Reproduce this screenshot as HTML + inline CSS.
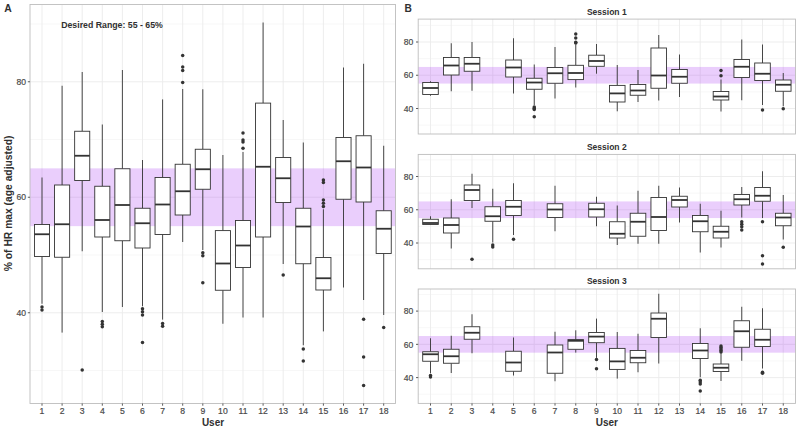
<!DOCTYPE html>
<html><head><meta charset="utf-8"><style>
html,body{margin:0;padding:0;background:#fff;}
svg{display:block;}
text{font-family:"Liberation Sans",sans-serif;}
.tk{font-size:8.6px;fill:#4A4A4A;font-weight:normal;stroke:#4A4A4A;stroke-width:0.2px;}
.bt{font-weight:bold;fill:#303030;}
</style></head><body>
<svg width="800" height="432" viewBox="0 0 800 432">
<rect width="800" height="432" fill="#fff"/>
<line x1="30.0" y1="370.5" x2="395.5" y2="370.5" stroke="#F2F2F2" stroke-width="0.6"/>
<line x1="30.0" y1="255" x2="395.5" y2="255" stroke="#F2F2F2" stroke-width="0.6"/>
<line x1="30.0" y1="139.5" x2="395.5" y2="139.5" stroke="#F2F2F2" stroke-width="0.6"/>
<line x1="30.0" y1="24" x2="395.5" y2="24" stroke="#F2F2F2" stroke-width="0.6"/>
<line x1="30.0" y1="312.75" x2="395.5" y2="312.75" stroke="#EBEBEB" stroke-width="0.9"/>
<line x1="30.0" y1="197.25" x2="395.5" y2="197.25" stroke="#EBEBEB" stroke-width="0.9"/>
<line x1="30.0" y1="81.75" x2="395.5" y2="81.75" stroke="#EBEBEB" stroke-width="0.9"/>
<line x1="42" y1="4.5" x2="42" y2="403.5" stroke="#EBEBEB" stroke-width="0.9"/>
<line x1="62.1" y1="4.5" x2="62.1" y2="403.5" stroke="#EBEBEB" stroke-width="0.9"/>
<line x1="82.2" y1="4.5" x2="82.2" y2="403.5" stroke="#EBEBEB" stroke-width="0.9"/>
<line x1="102.3" y1="4.5" x2="102.3" y2="403.5" stroke="#EBEBEB" stroke-width="0.9"/>
<line x1="122.4" y1="4.5" x2="122.4" y2="403.5" stroke="#EBEBEB" stroke-width="0.9"/>
<line x1="142.5" y1="4.5" x2="142.5" y2="403.5" stroke="#EBEBEB" stroke-width="0.9"/>
<line x1="162.6" y1="4.5" x2="162.6" y2="403.5" stroke="#EBEBEB" stroke-width="0.9"/>
<line x1="182.7" y1="4.5" x2="182.7" y2="403.5" stroke="#EBEBEB" stroke-width="0.9"/>
<line x1="202.8" y1="4.5" x2="202.8" y2="403.5" stroke="#EBEBEB" stroke-width="0.9"/>
<line x1="222.9" y1="4.5" x2="222.9" y2="403.5" stroke="#EBEBEB" stroke-width="0.9"/>
<line x1="243" y1="4.5" x2="243" y2="403.5" stroke="#EBEBEB" stroke-width="0.9"/>
<line x1="263.1" y1="4.5" x2="263.1" y2="403.5" stroke="#EBEBEB" stroke-width="0.9"/>
<line x1="283.2" y1="4.5" x2="283.2" y2="403.5" stroke="#EBEBEB" stroke-width="0.9"/>
<line x1="303.3" y1="4.5" x2="303.3" y2="403.5" stroke="#EBEBEB" stroke-width="0.9"/>
<line x1="323.4" y1="4.5" x2="323.4" y2="403.5" stroke="#EBEBEB" stroke-width="0.9"/>
<line x1="343.5" y1="4.5" x2="343.5" y2="403.5" stroke="#EBEBEB" stroke-width="0.9"/>
<line x1="363.6" y1="4.5" x2="363.6" y2="403.5" stroke="#EBEBEB" stroke-width="0.9"/>
<line x1="383.7" y1="4.5" x2="383.7" y2="403.5" stroke="#EBEBEB" stroke-width="0.9"/>
<rect x="30.0" y="168.38" width="365.5" height="57.75" fill="#A020F0" opacity="0.22"/>
<line x1="42" y1="177.5" x2="42" y2="224.5" stroke="#333333" stroke-width="0.9"/>
<line x1="42" y1="256.5" x2="42" y2="303.75" stroke="#333333" stroke-width="0.9"/>
<rect x="34.45" y="224.5" width="15.1" height="32" fill="#fff" stroke="#333333" stroke-width="0.9"/>
<line x1="34.45" y1="234.25" x2="49.55" y2="234.25" stroke="#333333" stroke-width="1.8"/>
<circle cx="42" cy="307" r="1.75" fill="#333333"/>
<circle cx="42" cy="310" r="1.75" fill="#333333"/>
<line x1="62.1" y1="85.75" x2="62.1" y2="185" stroke="#333333" stroke-width="0.9"/>
<line x1="62.1" y1="257.25" x2="62.1" y2="332.6" stroke="#333333" stroke-width="0.9"/>
<rect x="54.55" y="185" width="15.1" height="72.25" fill="#fff" stroke="#333333" stroke-width="0.9"/>
<line x1="54.55" y1="224.25" x2="69.65" y2="224.25" stroke="#333333" stroke-width="1.8"/>
<line x1="82.2" y1="72" x2="82.2" y2="131.25" stroke="#333333" stroke-width="0.9"/>
<line x1="82.2" y1="180.5" x2="82.2" y2="251.25" stroke="#333333" stroke-width="0.9"/>
<rect x="74.65" y="131.25" width="15.1" height="49.25" fill="#fff" stroke="#333333" stroke-width="0.9"/>
<line x1="74.65" y1="155.75" x2="89.75" y2="155.75" stroke="#333333" stroke-width="1.8"/>
<circle cx="82.2" cy="369.9" r="1.75" fill="#333333"/>
<line x1="102.3" y1="124.5" x2="102.3" y2="186.25" stroke="#333333" stroke-width="0.9"/>
<line x1="102.3" y1="237" x2="102.3" y2="312" stroke="#333333" stroke-width="0.9"/>
<rect x="94.75" y="186.25" width="15.1" height="50.75" fill="#fff" stroke="#333333" stroke-width="0.9"/>
<line x1="94.75" y1="220" x2="109.85" y2="220" stroke="#333333" stroke-width="1.8"/>
<circle cx="102.3" cy="321.5" r="1.75" fill="#333333"/>
<circle cx="102.3" cy="324.3" r="1.75" fill="#333333"/>
<circle cx="102.3" cy="326.8" r="1.75" fill="#333333"/>
<line x1="122.4" y1="70" x2="122.4" y2="168.75" stroke="#333333" stroke-width="0.9"/>
<line x1="122.4" y1="240.75" x2="122.4" y2="307" stroke="#333333" stroke-width="0.9"/>
<rect x="114.85" y="168.75" width="15.1" height="72" fill="#fff" stroke="#333333" stroke-width="0.9"/>
<line x1="114.85" y1="205" x2="129.95" y2="205" stroke="#333333" stroke-width="1.8"/>
<line x1="142.5" y1="160" x2="142.5" y2="208.25" stroke="#333333" stroke-width="0.9"/>
<line x1="142.5" y1="248" x2="142.5" y2="306.25" stroke="#333333" stroke-width="0.9"/>
<rect x="134.95" y="208.25" width="15.1" height="39.75" fill="#fff" stroke="#333333" stroke-width="0.9"/>
<line x1="134.95" y1="223.25" x2="150.05" y2="223.25" stroke="#333333" stroke-width="1.8"/>
<circle cx="142.5" cy="308.75" r="1.75" fill="#333333"/>
<circle cx="142.5" cy="311.75" r="1.75" fill="#333333"/>
<circle cx="142.5" cy="315" r="1.75" fill="#333333"/>
<circle cx="142.5" cy="342.4" r="1.75" fill="#333333"/>
<line x1="162.6" y1="99.4" x2="162.6" y2="177.5" stroke="#333333" stroke-width="0.9"/>
<line x1="162.6" y1="234.5" x2="162.6" y2="319.6" stroke="#333333" stroke-width="0.9"/>
<rect x="155.05" y="177.5" width="15.1" height="57" fill="#fff" stroke="#333333" stroke-width="0.9"/>
<line x1="155.05" y1="204.5" x2="170.15" y2="204.5" stroke="#333333" stroke-width="1.8"/>
<circle cx="162.6" cy="323.5" r="1.75" fill="#333333"/>
<circle cx="162.6" cy="326.3" r="1.75" fill="#333333"/>
<line x1="182.7" y1="89" x2="182.7" y2="164.25" stroke="#333333" stroke-width="0.9"/>
<line x1="182.7" y1="215" x2="182.7" y2="242" stroke="#333333" stroke-width="0.9"/>
<rect x="175.15" y="164.25" width="15.1" height="50.75" fill="#fff" stroke="#333333" stroke-width="0.9"/>
<line x1="175.15" y1="191.25" x2="190.25" y2="191.25" stroke="#333333" stroke-width="1.8"/>
<circle cx="182.7" cy="55.5" r="1.75" fill="#333333"/>
<circle cx="182.7" cy="67" r="1.75" fill="#333333"/>
<circle cx="182.7" cy="70.5" r="1.75" fill="#333333"/>
<circle cx="182.7" cy="82.5" r="1.75" fill="#333333"/>
<line x1="202.8" y1="89.25" x2="202.8" y2="149.25" stroke="#333333" stroke-width="0.9"/>
<line x1="202.8" y1="189.25" x2="202.8" y2="250" stroke="#333333" stroke-width="0.9"/>
<rect x="195.25" y="149.25" width="15.1" height="40" fill="#fff" stroke="#333333" stroke-width="0.9"/>
<line x1="195.25" y1="169.25" x2="210.35" y2="169.25" stroke="#333333" stroke-width="1.8"/>
<circle cx="202.8" cy="252.75" r="1.75" fill="#333333"/>
<circle cx="202.8" cy="255.75" r="1.75" fill="#333333"/>
<circle cx="202.8" cy="282.75" r="1.75" fill="#333333"/>
<line x1="222.9" y1="155" x2="222.9" y2="230.6" stroke="#333333" stroke-width="0.9"/>
<line x1="222.9" y1="290.25" x2="222.9" y2="323.75" stroke="#333333" stroke-width="0.9"/>
<rect x="215.35" y="230.6" width="15.1" height="59.65" fill="#fff" stroke="#333333" stroke-width="0.9"/>
<line x1="215.35" y1="263.5" x2="230.45" y2="263.5" stroke="#333333" stroke-width="1.8"/>
<line x1="243" y1="152" x2="243" y2="220.5" stroke="#333333" stroke-width="0.9"/>
<line x1="243" y1="267.5" x2="243" y2="317.5" stroke="#333333" stroke-width="0.9"/>
<rect x="235.45" y="220.5" width="15.1" height="47" fill="#fff" stroke="#333333" stroke-width="0.9"/>
<line x1="235.45" y1="245.5" x2="250.55" y2="245.5" stroke="#333333" stroke-width="1.8"/>
<circle cx="243" cy="133" r="1.75" fill="#333333"/>
<circle cx="243" cy="140" r="1.75" fill="#333333"/>
<circle cx="243" cy="142" r="1.75" fill="#333333"/>
<circle cx="243" cy="148.25" r="1.75" fill="#333333"/>
<line x1="263.1" y1="22.5" x2="263.1" y2="103.1" stroke="#333333" stroke-width="0.9"/>
<line x1="263.1" y1="237" x2="263.1" y2="317.5" stroke="#333333" stroke-width="0.9"/>
<rect x="255.55" y="103.1" width="15.1" height="133.9" fill="#fff" stroke="#333333" stroke-width="0.9"/>
<line x1="255.55" y1="166.75" x2="270.65" y2="166.75" stroke="#333333" stroke-width="1.8"/>
<line x1="283.2" y1="120" x2="283.2" y2="157.5" stroke="#333333" stroke-width="0.9"/>
<line x1="283.2" y1="202.5" x2="283.2" y2="264" stroke="#333333" stroke-width="0.9"/>
<rect x="275.65" y="157.5" width="15.1" height="45" fill="#fff" stroke="#333333" stroke-width="0.9"/>
<line x1="275.65" y1="178.25" x2="290.75" y2="178.25" stroke="#333333" stroke-width="1.8"/>
<circle cx="283.2" cy="275" r="1.75" fill="#333333"/>
<line x1="303.3" y1="142.5" x2="303.3" y2="208.25" stroke="#333333" stroke-width="0.9"/>
<line x1="303.3" y1="263.75" x2="303.3" y2="345.25" stroke="#333333" stroke-width="0.9"/>
<rect x="295.75" y="208.25" width="15.1" height="55.5" fill="#fff" stroke="#333333" stroke-width="0.9"/>
<line x1="295.75" y1="226.5" x2="310.85" y2="226.5" stroke="#333333" stroke-width="1.8"/>
<circle cx="303.3" cy="349" r="1.75" fill="#333333"/>
<circle cx="303.3" cy="361" r="1.75" fill="#333333"/>
<line x1="323.4" y1="209.3" x2="323.4" y2="257.5" stroke="#333333" stroke-width="0.9"/>
<line x1="323.4" y1="290" x2="323.4" y2="331.4" stroke="#333333" stroke-width="0.9"/>
<rect x="315.85" y="257.5" width="15.1" height="32.5" fill="#fff" stroke="#333333" stroke-width="0.9"/>
<line x1="315.85" y1="278.25" x2="330.95" y2="278.25" stroke="#333333" stroke-width="1.8"/>
<circle cx="323.4" cy="180" r="1.75" fill="#333333"/>
<circle cx="323.4" cy="182.5" r="1.75" fill="#333333"/>
<circle cx="323.4" cy="199.9" r="1.75" fill="#333333"/>
<circle cx="323.4" cy="203.3" r="1.75" fill="#333333"/>
<circle cx="323.4" cy="206.5" r="1.75" fill="#333333"/>
<line x1="343.5" y1="67.5" x2="343.5" y2="137.5" stroke="#333333" stroke-width="0.9"/>
<line x1="343.5" y1="199.25" x2="343.5" y2="287.5" stroke="#333333" stroke-width="0.9"/>
<rect x="335.95" y="137.5" width="15.1" height="61.75" fill="#fff" stroke="#333333" stroke-width="0.9"/>
<line x1="335.95" y1="161.25" x2="351.05" y2="161.25" stroke="#333333" stroke-width="1.8"/>
<line x1="363.6" y1="63.75" x2="363.6" y2="135.75" stroke="#333333" stroke-width="0.9"/>
<line x1="363.6" y1="202" x2="363.6" y2="300" stroke="#333333" stroke-width="0.9"/>
<rect x="356.05" y="135.75" width="15.1" height="66.25" fill="#fff" stroke="#333333" stroke-width="0.9"/>
<line x1="356.05" y1="167.5" x2="371.15" y2="167.5" stroke="#333333" stroke-width="1.8"/>
<circle cx="363.6" cy="319.25" r="1.75" fill="#333333"/>
<circle cx="363.6" cy="357" r="1.75" fill="#333333"/>
<circle cx="363.6" cy="385.5" r="1.75" fill="#333333"/>
<line x1="383.7" y1="145.75" x2="383.7" y2="210.75" stroke="#333333" stroke-width="0.9"/>
<line x1="383.7" y1="253.5" x2="383.7" y2="315" stroke="#333333" stroke-width="0.9"/>
<rect x="376.15" y="210.75" width="15.1" height="42.75" fill="#fff" stroke="#333333" stroke-width="0.9"/>
<line x1="376.15" y1="228.75" x2="391.25" y2="228.75" stroke="#333333" stroke-width="1.8"/>
<circle cx="383.7" cy="327.6" r="1.75" fill="#333333"/>
<rect x="30.0" y="4.5" width="365.5" height="399" fill="none" stroke="#BDBDBD" stroke-width="0.9"/>
<line x1="27.8" y1="312.75" x2="30.0" y2="312.75" stroke="#4A4A4A" stroke-width="0.9"/>
<text x="26" y="315.95" text-anchor="end" class="tk">40</text>
<line x1="27.8" y1="197.25" x2="30.0" y2="197.25" stroke="#4A4A4A" stroke-width="0.9"/>
<text x="26" y="200.45" text-anchor="end" class="tk">60</text>
<line x1="27.8" y1="81.75" x2="30.0" y2="81.75" stroke="#4A4A4A" stroke-width="0.9"/>
<text x="26" y="84.95" text-anchor="end" class="tk">80</text>
<line x1="42" y1="403.5" x2="42" y2="405.7" stroke="#4A4A4A" stroke-width="0.9"/>
<text x="42" y="414" text-anchor="middle" class="tk">1</text>
<line x1="62.1" y1="403.5" x2="62.1" y2="405.7" stroke="#4A4A4A" stroke-width="0.9"/>
<text x="62.1" y="414" text-anchor="middle" class="tk">2</text>
<line x1="82.2" y1="403.5" x2="82.2" y2="405.7" stroke="#4A4A4A" stroke-width="0.9"/>
<text x="82.2" y="414" text-anchor="middle" class="tk">3</text>
<line x1="102.3" y1="403.5" x2="102.3" y2="405.7" stroke="#4A4A4A" stroke-width="0.9"/>
<text x="102.3" y="414" text-anchor="middle" class="tk">4</text>
<line x1="122.4" y1="403.5" x2="122.4" y2="405.7" stroke="#4A4A4A" stroke-width="0.9"/>
<text x="122.4" y="414" text-anchor="middle" class="tk">5</text>
<line x1="142.5" y1="403.5" x2="142.5" y2="405.7" stroke="#4A4A4A" stroke-width="0.9"/>
<text x="142.5" y="414" text-anchor="middle" class="tk">6</text>
<line x1="162.6" y1="403.5" x2="162.6" y2="405.7" stroke="#4A4A4A" stroke-width="0.9"/>
<text x="162.6" y="414" text-anchor="middle" class="tk">7</text>
<line x1="182.7" y1="403.5" x2="182.7" y2="405.7" stroke="#4A4A4A" stroke-width="0.9"/>
<text x="182.7" y="414" text-anchor="middle" class="tk">8</text>
<line x1="202.8" y1="403.5" x2="202.8" y2="405.7" stroke="#4A4A4A" stroke-width="0.9"/>
<text x="202.8" y="414" text-anchor="middle" class="tk">9</text>
<line x1="222.9" y1="403.5" x2="222.9" y2="405.7" stroke="#4A4A4A" stroke-width="0.9"/>
<text x="222.9" y="414" text-anchor="middle" class="tk">10</text>
<line x1="243" y1="403.5" x2="243" y2="405.7" stroke="#4A4A4A" stroke-width="0.9"/>
<text x="243" y="414" text-anchor="middle" class="tk">11</text>
<line x1="263.1" y1="403.5" x2="263.1" y2="405.7" stroke="#4A4A4A" stroke-width="0.9"/>
<text x="263.1" y="414" text-anchor="middle" class="tk">12</text>
<line x1="283.2" y1="403.5" x2="283.2" y2="405.7" stroke="#4A4A4A" stroke-width="0.9"/>
<text x="283.2" y="414" text-anchor="middle" class="tk">13</text>
<line x1="303.3" y1="403.5" x2="303.3" y2="405.7" stroke="#4A4A4A" stroke-width="0.9"/>
<text x="303.3" y="414" text-anchor="middle" class="tk">14</text>
<line x1="323.4" y1="403.5" x2="323.4" y2="405.7" stroke="#4A4A4A" stroke-width="0.9"/>
<text x="323.4" y="414" text-anchor="middle" class="tk">15</text>
<line x1="343.5" y1="403.5" x2="343.5" y2="405.7" stroke="#4A4A4A" stroke-width="0.9"/>
<text x="343.5" y="414" text-anchor="middle" class="tk">16</text>
<line x1="363.6" y1="403.5" x2="363.6" y2="405.7" stroke="#4A4A4A" stroke-width="0.9"/>
<text x="363.6" y="414" text-anchor="middle" class="tk">17</text>
<line x1="383.7" y1="403.5" x2="383.7" y2="405.7" stroke="#4A4A4A" stroke-width="0.9"/>
<text x="383.7" y="414" text-anchor="middle" class="tk">18</text>
<line x1="418.2" y1="125.12" x2="795.5" y2="125.12" stroke="#F2F2F2" stroke-width="0.6"/>
<line x1="418.2" y1="91.88" x2="795.5" y2="91.88" stroke="#F2F2F2" stroke-width="0.6"/>
<line x1="418.2" y1="58.62" x2="795.5" y2="58.62" stroke="#F2F2F2" stroke-width="0.6"/>
<line x1="418.2" y1="25.38" x2="795.5" y2="25.38" stroke="#F2F2F2" stroke-width="0.6"/>
<line x1="418.2" y1="108.5" x2="795.5" y2="108.5" stroke="#EBEBEB" stroke-width="0.9"/>
<line x1="418.2" y1="75.25" x2="795.5" y2="75.25" stroke="#EBEBEB" stroke-width="0.9"/>
<line x1="418.2" y1="42" x2="795.5" y2="42" stroke="#EBEBEB" stroke-width="0.9"/>
<line x1="430.5" y1="19.1" x2="430.5" y2="134.0" stroke="#EBEBEB" stroke-width="0.9"/>
<line x1="451.25" y1="19.1" x2="451.25" y2="134.0" stroke="#EBEBEB" stroke-width="0.9"/>
<line x1="472" y1="19.1" x2="472" y2="134.0" stroke="#EBEBEB" stroke-width="0.9"/>
<line x1="492.75" y1="19.1" x2="492.75" y2="134.0" stroke="#EBEBEB" stroke-width="0.9"/>
<line x1="513.5" y1="19.1" x2="513.5" y2="134.0" stroke="#EBEBEB" stroke-width="0.9"/>
<line x1="534.25" y1="19.1" x2="534.25" y2="134.0" stroke="#EBEBEB" stroke-width="0.9"/>
<line x1="555" y1="19.1" x2="555" y2="134.0" stroke="#EBEBEB" stroke-width="0.9"/>
<line x1="575.75" y1="19.1" x2="575.75" y2="134.0" stroke="#EBEBEB" stroke-width="0.9"/>
<line x1="596.5" y1="19.1" x2="596.5" y2="134.0" stroke="#EBEBEB" stroke-width="0.9"/>
<line x1="617.25" y1="19.1" x2="617.25" y2="134.0" stroke="#EBEBEB" stroke-width="0.9"/>
<line x1="638" y1="19.1" x2="638" y2="134.0" stroke="#EBEBEB" stroke-width="0.9"/>
<line x1="658.75" y1="19.1" x2="658.75" y2="134.0" stroke="#EBEBEB" stroke-width="0.9"/>
<line x1="679.5" y1="19.1" x2="679.5" y2="134.0" stroke="#EBEBEB" stroke-width="0.9"/>
<line x1="700.25" y1="19.1" x2="700.25" y2="134.0" stroke="#EBEBEB" stroke-width="0.9"/>
<line x1="721" y1="19.1" x2="721" y2="134.0" stroke="#EBEBEB" stroke-width="0.9"/>
<line x1="741.75" y1="19.1" x2="741.75" y2="134.0" stroke="#EBEBEB" stroke-width="0.9"/>
<line x1="762.5" y1="19.1" x2="762.5" y2="134.0" stroke="#EBEBEB" stroke-width="0.9"/>
<line x1="783.25" y1="19.1" x2="783.25" y2="134.0" stroke="#EBEBEB" stroke-width="0.9"/>
<rect x="418.2" y="66.94" width="377.3" height="16.62" fill="#A020F0" opacity="0.22"/>
<line x1="430.5" y1="81.25" x2="430.5" y2="82.5" stroke="#333333" stroke-width="0.9"/>
<line x1="430.5" y1="94.5" x2="430.5" y2="95.75" stroke="#333333" stroke-width="0.9"/>
<rect x="422.7" y="82.5" width="15.6" height="12" fill="#fff" stroke="#333333" stroke-width="0.9"/>
<line x1="422.7" y1="88" x2="438.3" y2="88" stroke="#333333" stroke-width="1.8"/>
<line x1="451.25" y1="43.25" x2="451.25" y2="57.5" stroke="#333333" stroke-width="0.9"/>
<line x1="451.25" y1="75" x2="451.25" y2="91.25" stroke="#333333" stroke-width="0.9"/>
<rect x="443.45" y="57.5" width="15.6" height="17.5" fill="#fff" stroke="#333333" stroke-width="0.9"/>
<line x1="443.45" y1="65.5" x2="459.05" y2="65.5" stroke="#333333" stroke-width="1.8"/>
<line x1="472" y1="42" x2="472" y2="57.5" stroke="#333333" stroke-width="0.9"/>
<line x1="472" y1="71.25" x2="472" y2="90.75" stroke="#333333" stroke-width="0.9"/>
<rect x="464.2" y="57.5" width="15.6" height="13.75" fill="#fff" stroke="#333333" stroke-width="0.9"/>
<line x1="464.2" y1="63.75" x2="479.8" y2="63.75" stroke="#333333" stroke-width="1.8"/>
<line x1="513.5" y1="38.25" x2="513.5" y2="60" stroke="#333333" stroke-width="0.9"/>
<line x1="513.5" y1="77" x2="513.5" y2="93.5" stroke="#333333" stroke-width="0.9"/>
<rect x="505.7" y="60" width="15.6" height="17" fill="#fff" stroke="#333333" stroke-width="0.9"/>
<line x1="505.7" y1="67.5" x2="521.3" y2="67.5" stroke="#333333" stroke-width="1.8"/>
<line x1="534.25" y1="64.5" x2="534.25" y2="78.25" stroke="#333333" stroke-width="0.9"/>
<line x1="534.25" y1="89.25" x2="534.25" y2="105" stroke="#333333" stroke-width="0.9"/>
<rect x="526.45" y="78.25" width="15.6" height="11" fill="#fff" stroke="#333333" stroke-width="0.9"/>
<line x1="526.45" y1="82.5" x2="542.05" y2="82.5" stroke="#333333" stroke-width="1.8"/>
<circle cx="534.25" cy="107" r="1.75" fill="#333333"/>
<circle cx="534.25" cy="108.25" r="1.75" fill="#333333"/>
<circle cx="534.25" cy="109.5" r="1.75" fill="#333333"/>
<circle cx="534.25" cy="116.75" r="1.75" fill="#333333"/>
<line x1="555" y1="47" x2="555" y2="67.5" stroke="#333333" stroke-width="0.9"/>
<line x1="555" y1="83.25" x2="555" y2="98.5" stroke="#333333" stroke-width="0.9"/>
<rect x="547.2" y="67.5" width="15.6" height="15.75" fill="#fff" stroke="#333333" stroke-width="0.9"/>
<line x1="547.2" y1="73.25" x2="562.8" y2="73.25" stroke="#333333" stroke-width="1.8"/>
<line x1="575.75" y1="44.5" x2="575.75" y2="65.3" stroke="#333333" stroke-width="0.9"/>
<line x1="575.75" y1="79.6" x2="575.75" y2="87.5" stroke="#333333" stroke-width="0.9"/>
<rect x="567.95" y="65.3" width="15.6" height="14.3" fill="#fff" stroke="#333333" stroke-width="0.9"/>
<line x1="567.95" y1="73" x2="583.55" y2="73" stroke="#333333" stroke-width="1.8"/>
<circle cx="575.75" cy="33.9" r="1.75" fill="#333333"/>
<circle cx="575.75" cy="38" r="1.75" fill="#333333"/>
<circle cx="575.75" cy="42.2" r="1.75" fill="#333333"/>
<circle cx="575.75" cy="43" r="1.75" fill="#333333"/>
<line x1="596.5" y1="44" x2="596.5" y2="55.2" stroke="#333333" stroke-width="0.9"/>
<line x1="596.5" y1="66.3" x2="596.5" y2="73.7" stroke="#333333" stroke-width="0.9"/>
<rect x="588.7" y="55.2" width="15.6" height="11.1" fill="#fff" stroke="#333333" stroke-width="0.9"/>
<line x1="588.7" y1="61" x2="604.3" y2="61" stroke="#333333" stroke-width="1.8"/>
<line x1="617.25" y1="65" x2="617.25" y2="85.4" stroke="#333333" stroke-width="0.9"/>
<line x1="617.25" y1="102" x2="617.25" y2="111.3" stroke="#333333" stroke-width="0.9"/>
<rect x="609.45" y="85.4" width="15.6" height="16.6" fill="#fff" stroke="#333333" stroke-width="0.9"/>
<line x1="609.45" y1="93.4" x2="625.05" y2="93.4" stroke="#333333" stroke-width="1.8"/>
<line x1="638" y1="70" x2="638" y2="84.5" stroke="#333333" stroke-width="0.9"/>
<line x1="638" y1="95.25" x2="638" y2="102" stroke="#333333" stroke-width="0.9"/>
<rect x="630.2" y="84.5" width="15.6" height="10.75" fill="#fff" stroke="#333333" stroke-width="0.9"/>
<line x1="630.2" y1="90.5" x2="645.8" y2="90.5" stroke="#333333" stroke-width="1.8"/>
<line x1="658.75" y1="35" x2="658.75" y2="48" stroke="#333333" stroke-width="0.9"/>
<line x1="658.75" y1="88.25" x2="658.75" y2="100.5" stroke="#333333" stroke-width="0.9"/>
<rect x="650.95" y="48" width="15.6" height="40.25" fill="#fff" stroke="#333333" stroke-width="0.9"/>
<line x1="650.95" y1="75.5" x2="666.55" y2="75.5" stroke="#333333" stroke-width="1.8"/>
<line x1="679.5" y1="54.5" x2="679.5" y2="69.5" stroke="#333333" stroke-width="0.9"/>
<line x1="679.5" y1="83.25" x2="679.5" y2="97" stroke="#333333" stroke-width="0.9"/>
<rect x="671.7" y="69.5" width="15.6" height="13.75" fill="#fff" stroke="#333333" stroke-width="0.9"/>
<line x1="671.7" y1="76.75" x2="687.3" y2="76.75" stroke="#333333" stroke-width="1.8"/>
<line x1="721" y1="79.5" x2="721" y2="91.5" stroke="#333333" stroke-width="0.9"/>
<line x1="721" y1="100" x2="721" y2="111.5" stroke="#333333" stroke-width="0.9"/>
<rect x="713.2" y="91.5" width="15.6" height="8.5" fill="#fff" stroke="#333333" stroke-width="0.9"/>
<line x1="713.2" y1="96.5" x2="728.8" y2="96.5" stroke="#333333" stroke-width="1.8"/>
<circle cx="721" cy="70.5" r="1.75" fill="#333333"/>
<circle cx="721" cy="75.75" r="1.75" fill="#333333"/>
<line x1="741.75" y1="39.5" x2="741.75" y2="59.5" stroke="#333333" stroke-width="0.9"/>
<line x1="741.75" y1="77.5" x2="741.75" y2="100.25" stroke="#333333" stroke-width="0.9"/>
<rect x="733.95" y="59.5" width="15.6" height="18" fill="#fff" stroke="#333333" stroke-width="0.9"/>
<line x1="733.95" y1="66.75" x2="749.55" y2="66.75" stroke="#333333" stroke-width="1.8"/>
<line x1="762.5" y1="44.5" x2="762.5" y2="63" stroke="#333333" stroke-width="0.9"/>
<line x1="762.5" y1="80.5" x2="762.5" y2="105" stroke="#333333" stroke-width="0.9"/>
<rect x="754.7" y="63" width="15.6" height="17.5" fill="#fff" stroke="#333333" stroke-width="0.9"/>
<line x1="754.7" y1="73.75" x2="770.3" y2="73.75" stroke="#333333" stroke-width="1.8"/>
<circle cx="762.5" cy="110" r="1.75" fill="#333333"/>
<line x1="783.25" y1="73" x2="783.25" y2="80" stroke="#333333" stroke-width="0.9"/>
<line x1="783.25" y1="91.25" x2="783.25" y2="106.25" stroke="#333333" stroke-width="0.9"/>
<rect x="775.45" y="80" width="15.6" height="11.25" fill="#fff" stroke="#333333" stroke-width="0.9"/>
<line x1="775.45" y1="84.75" x2="791.05" y2="84.75" stroke="#333333" stroke-width="1.8"/>
<circle cx="783.25" cy="108.75" r="1.75" fill="#333333"/>
<rect x="418.2" y="19.1" width="377.3" height="114.9" fill="none" stroke="#BDBDBD" stroke-width="0.9"/>
<line x1="416" y1="108.5" x2="418.2" y2="108.5" stroke="#4A4A4A" stroke-width="0.9"/>
<text x="413.4" y="111.7" text-anchor="end" class="tk">40</text>
<line x1="416" y1="75.25" x2="418.2" y2="75.25" stroke="#4A4A4A" stroke-width="0.9"/>
<text x="413.4" y="78.45" text-anchor="end" class="tk">60</text>
<line x1="416" y1="42" x2="418.2" y2="42" stroke="#4A4A4A" stroke-width="0.9"/>
<text x="413.4" y="45.2" text-anchor="end" class="tk">80</text>
<line x1="418.2" y1="259.62" x2="795.5" y2="259.62" stroke="#F2F2F2" stroke-width="0.6"/>
<line x1="418.2" y1="226.38" x2="795.5" y2="226.38" stroke="#F2F2F2" stroke-width="0.6"/>
<line x1="418.2" y1="193.12" x2="795.5" y2="193.12" stroke="#F2F2F2" stroke-width="0.6"/>
<line x1="418.2" y1="159.88" x2="795.5" y2="159.88" stroke="#F2F2F2" stroke-width="0.6"/>
<line x1="418.2" y1="243" x2="795.5" y2="243" stroke="#EBEBEB" stroke-width="0.9"/>
<line x1="418.2" y1="209.75" x2="795.5" y2="209.75" stroke="#EBEBEB" stroke-width="0.9"/>
<line x1="418.2" y1="176.5" x2="795.5" y2="176.5" stroke="#EBEBEB" stroke-width="0.9"/>
<line x1="430.5" y1="154.4" x2="430.5" y2="268.8" stroke="#EBEBEB" stroke-width="0.9"/>
<line x1="451.25" y1="154.4" x2="451.25" y2="268.8" stroke="#EBEBEB" stroke-width="0.9"/>
<line x1="472" y1="154.4" x2="472" y2="268.8" stroke="#EBEBEB" stroke-width="0.9"/>
<line x1="492.75" y1="154.4" x2="492.75" y2="268.8" stroke="#EBEBEB" stroke-width="0.9"/>
<line x1="513.5" y1="154.4" x2="513.5" y2="268.8" stroke="#EBEBEB" stroke-width="0.9"/>
<line x1="534.25" y1="154.4" x2="534.25" y2="268.8" stroke="#EBEBEB" stroke-width="0.9"/>
<line x1="555" y1="154.4" x2="555" y2="268.8" stroke="#EBEBEB" stroke-width="0.9"/>
<line x1="575.75" y1="154.4" x2="575.75" y2="268.8" stroke="#EBEBEB" stroke-width="0.9"/>
<line x1="596.5" y1="154.4" x2="596.5" y2="268.8" stroke="#EBEBEB" stroke-width="0.9"/>
<line x1="617.25" y1="154.4" x2="617.25" y2="268.8" stroke="#EBEBEB" stroke-width="0.9"/>
<line x1="638" y1="154.4" x2="638" y2="268.8" stroke="#EBEBEB" stroke-width="0.9"/>
<line x1="658.75" y1="154.4" x2="658.75" y2="268.8" stroke="#EBEBEB" stroke-width="0.9"/>
<line x1="679.5" y1="154.4" x2="679.5" y2="268.8" stroke="#EBEBEB" stroke-width="0.9"/>
<line x1="700.25" y1="154.4" x2="700.25" y2="268.8" stroke="#EBEBEB" stroke-width="0.9"/>
<line x1="721" y1="154.4" x2="721" y2="268.8" stroke="#EBEBEB" stroke-width="0.9"/>
<line x1="741.75" y1="154.4" x2="741.75" y2="268.8" stroke="#EBEBEB" stroke-width="0.9"/>
<line x1="762.5" y1="154.4" x2="762.5" y2="268.8" stroke="#EBEBEB" stroke-width="0.9"/>
<line x1="783.25" y1="154.4" x2="783.25" y2="268.8" stroke="#EBEBEB" stroke-width="0.9"/>
<rect x="418.2" y="201.44" width="377.3" height="16.62" fill="#A020F0" opacity="0.22"/>
<line x1="430.5" y1="216.25" x2="430.5" y2="219.25" stroke="#333333" stroke-width="0.9"/>
<line x1="430.5" y1="224.5" x2="430.5" y2="225" stroke="#333333" stroke-width="0.9"/>
<rect x="422.7" y="219.25" width="15.6" height="5.25" fill="#fff" stroke="#333333" stroke-width="0.9"/>
<line x1="422.7" y1="223" x2="438.3" y2="223" stroke="#333333" stroke-width="1.8"/>
<line x1="451.25" y1="199.25" x2="451.25" y2="218" stroke="#333333" stroke-width="0.9"/>
<line x1="451.25" y1="233" x2="451.25" y2="248.5" stroke="#333333" stroke-width="0.9"/>
<rect x="443.45" y="218" width="15.6" height="15" fill="#fff" stroke="#333333" stroke-width="0.9"/>
<line x1="443.45" y1="225" x2="459.05" y2="225" stroke="#333333" stroke-width="1.8"/>
<line x1="472" y1="173.75" x2="472" y2="185" stroke="#333333" stroke-width="0.9"/>
<line x1="472" y1="200.5" x2="472" y2="208" stroke="#333333" stroke-width="0.9"/>
<rect x="464.2" y="185" width="15.6" height="15.5" fill="#fff" stroke="#333333" stroke-width="0.9"/>
<line x1="464.2" y1="190" x2="479.8" y2="190" stroke="#333333" stroke-width="1.8"/>
<circle cx="472" cy="259.25" r="1.75" fill="#333333"/>
<line x1="492.75" y1="188.75" x2="492.75" y2="206.75" stroke="#333333" stroke-width="0.9"/>
<line x1="492.75" y1="221.25" x2="492.75" y2="242.5" stroke="#333333" stroke-width="0.9"/>
<rect x="484.95" y="206.75" width="15.6" height="14.5" fill="#fff" stroke="#333333" stroke-width="0.9"/>
<line x1="484.95" y1="216.25" x2="500.55" y2="216.25" stroke="#333333" stroke-width="1.8"/>
<circle cx="492.75" cy="245" r="1.75" fill="#333333"/>
<circle cx="492.75" cy="247" r="1.75" fill="#333333"/>
<line x1="513.5" y1="183.25" x2="513.5" y2="200.5" stroke="#333333" stroke-width="0.9"/>
<line x1="513.5" y1="215.5" x2="513.5" y2="235" stroke="#333333" stroke-width="0.9"/>
<rect x="505.7" y="200.5" width="15.6" height="15" fill="#fff" stroke="#333333" stroke-width="0.9"/>
<line x1="505.7" y1="206.75" x2="521.3" y2="206.75" stroke="#333333" stroke-width="1.8"/>
<circle cx="513.5" cy="239.25" r="1.75" fill="#333333"/>
<line x1="555" y1="185.75" x2="555" y2="203.75" stroke="#333333" stroke-width="0.9"/>
<line x1="555" y1="217.5" x2="555" y2="231.25" stroke="#333333" stroke-width="0.9"/>
<rect x="547.2" y="203.75" width="15.6" height="13.75" fill="#fff" stroke="#333333" stroke-width="0.9"/>
<line x1="547.2" y1="209.5" x2="562.8" y2="209.5" stroke="#333333" stroke-width="1.8"/>
<line x1="596.5" y1="196.75" x2="596.5" y2="203.25" stroke="#333333" stroke-width="0.9"/>
<line x1="596.5" y1="217" x2="596.5" y2="226.25" stroke="#333333" stroke-width="0.9"/>
<rect x="588.7" y="203.25" width="15.6" height="13.75" fill="#fff" stroke="#333333" stroke-width="0.9"/>
<line x1="588.7" y1="209.25" x2="604.3" y2="209.25" stroke="#333333" stroke-width="1.8"/>
<line x1="617.25" y1="205.5" x2="617.25" y2="221.75" stroke="#333333" stroke-width="0.9"/>
<line x1="617.25" y1="238" x2="617.25" y2="245" stroke="#333333" stroke-width="0.9"/>
<rect x="609.45" y="221.75" width="15.6" height="16.25" fill="#fff" stroke="#333333" stroke-width="0.9"/>
<line x1="609.45" y1="233.75" x2="625.05" y2="233.75" stroke="#333333" stroke-width="1.8"/>
<line x1="638" y1="190.75" x2="638" y2="213.25" stroke="#333333" stroke-width="0.9"/>
<line x1="638" y1="236.25" x2="638" y2="243.75" stroke="#333333" stroke-width="0.9"/>
<rect x="630.2" y="213.25" width="15.6" height="23" fill="#fff" stroke="#333333" stroke-width="0.9"/>
<line x1="630.2" y1="221.75" x2="645.8" y2="221.75" stroke="#333333" stroke-width="1.8"/>
<line x1="658.75" y1="185.75" x2="658.75" y2="197.5" stroke="#333333" stroke-width="0.9"/>
<line x1="658.75" y1="230.5" x2="658.75" y2="243.75" stroke="#333333" stroke-width="0.9"/>
<rect x="650.95" y="197.5" width="15.6" height="33" fill="#fff" stroke="#333333" stroke-width="0.9"/>
<line x1="650.95" y1="217" x2="666.55" y2="217" stroke="#333333" stroke-width="1.8"/>
<line x1="679.5" y1="187.5" x2="679.5" y2="196.25" stroke="#333333" stroke-width="0.9"/>
<line x1="679.5" y1="207" x2="679.5" y2="222.5" stroke="#333333" stroke-width="0.9"/>
<rect x="671.7" y="196.25" width="15.6" height="10.75" fill="#fff" stroke="#333333" stroke-width="0.9"/>
<line x1="671.7" y1="200" x2="687.3" y2="200" stroke="#333333" stroke-width="1.8"/>
<line x1="700.25" y1="203.75" x2="700.25" y2="215.5" stroke="#333333" stroke-width="0.9"/>
<line x1="700.25" y1="231.75" x2="700.25" y2="252.5" stroke="#333333" stroke-width="0.9"/>
<rect x="692.45" y="215.5" width="15.6" height="16.25" fill="#fff" stroke="#333333" stroke-width="0.9"/>
<line x1="692.45" y1="221.25" x2="708.05" y2="221.25" stroke="#333333" stroke-width="1.8"/>
<line x1="721" y1="210.75" x2="721" y2="226.25" stroke="#333333" stroke-width="0.9"/>
<line x1="721" y1="238" x2="721" y2="247.5" stroke="#333333" stroke-width="0.9"/>
<rect x="713.2" y="226.25" width="15.6" height="11.75" fill="#fff" stroke="#333333" stroke-width="0.9"/>
<line x1="713.2" y1="231.75" x2="728.8" y2="231.75" stroke="#333333" stroke-width="1.8"/>
<line x1="741.75" y1="187" x2="741.75" y2="194.5" stroke="#333333" stroke-width="0.9"/>
<line x1="741.75" y1="205" x2="741.75" y2="217.5" stroke="#333333" stroke-width="0.9"/>
<rect x="733.95" y="194.5" width="15.6" height="10.5" fill="#fff" stroke="#333333" stroke-width="0.9"/>
<line x1="733.95" y1="199.25" x2="749.55" y2="199.25" stroke="#333333" stroke-width="1.8"/>
<circle cx="741.75" cy="221.75" r="1.75" fill="#333333"/>
<circle cx="741.75" cy="224.25" r="1.75" fill="#333333"/>
<circle cx="741.75" cy="226.75" r="1.75" fill="#333333"/>
<circle cx="741.75" cy="230" r="1.75" fill="#333333"/>
<line x1="762.5" y1="171.25" x2="762.5" y2="187.5" stroke="#333333" stroke-width="0.9"/>
<line x1="762.5" y1="201.25" x2="762.5" y2="218" stroke="#333333" stroke-width="0.9"/>
<rect x="754.7" y="187.5" width="15.6" height="13.75" fill="#fff" stroke="#333333" stroke-width="0.9"/>
<line x1="754.7" y1="195.75" x2="770.3" y2="195.75" stroke="#333333" stroke-width="1.8"/>
<circle cx="762.5" cy="221.75" r="1.75" fill="#333333"/>
<circle cx="762.5" cy="255.7" r="1.75" fill="#333333"/>
<circle cx="762.5" cy="263.9" r="1.75" fill="#333333"/>
<line x1="783.25" y1="195" x2="783.25" y2="213.25" stroke="#333333" stroke-width="0.9"/>
<line x1="783.25" y1="225.75" x2="783.25" y2="239.5" stroke="#333333" stroke-width="0.9"/>
<rect x="775.45" y="213.25" width="15.6" height="12.5" fill="#fff" stroke="#333333" stroke-width="0.9"/>
<line x1="775.45" y1="217.5" x2="791.05" y2="217.5" stroke="#333333" stroke-width="1.8"/>
<circle cx="783.25" cy="247.2" r="1.75" fill="#333333"/>
<rect x="418.2" y="154.4" width="377.3" height="114.4" fill="none" stroke="#BDBDBD" stroke-width="0.9"/>
<line x1="416" y1="243" x2="418.2" y2="243" stroke="#4A4A4A" stroke-width="0.9"/>
<text x="413.4" y="246.2" text-anchor="end" class="tk">40</text>
<line x1="416" y1="209.75" x2="418.2" y2="209.75" stroke="#4A4A4A" stroke-width="0.9"/>
<text x="413.4" y="212.95" text-anchor="end" class="tk">60</text>
<line x1="416" y1="176.5" x2="418.2" y2="176.5" stroke="#4A4A4A" stroke-width="0.9"/>
<text x="413.4" y="179.7" text-anchor="end" class="tk">80</text>
<line x1="418.2" y1="394.23" x2="795.5" y2="394.23" stroke="#F2F2F2" stroke-width="0.6"/>
<line x1="418.2" y1="360.98" x2="795.5" y2="360.98" stroke="#F2F2F2" stroke-width="0.6"/>
<line x1="418.2" y1="327.73" x2="795.5" y2="327.73" stroke="#F2F2F2" stroke-width="0.6"/>
<line x1="418.2" y1="294.48" x2="795.5" y2="294.48" stroke="#F2F2F2" stroke-width="0.6"/>
<line x1="418.2" y1="377.6" x2="795.5" y2="377.6" stroke="#EBEBEB" stroke-width="0.9"/>
<line x1="418.2" y1="344.35" x2="795.5" y2="344.35" stroke="#EBEBEB" stroke-width="0.9"/>
<line x1="418.2" y1="311.1" x2="795.5" y2="311.1" stroke="#EBEBEB" stroke-width="0.9"/>
<line x1="430.5" y1="289.0" x2="430.5" y2="403.4" stroke="#EBEBEB" stroke-width="0.9"/>
<line x1="451.25" y1="289.0" x2="451.25" y2="403.4" stroke="#EBEBEB" stroke-width="0.9"/>
<line x1="472" y1="289.0" x2="472" y2="403.4" stroke="#EBEBEB" stroke-width="0.9"/>
<line x1="492.75" y1="289.0" x2="492.75" y2="403.4" stroke="#EBEBEB" stroke-width="0.9"/>
<line x1="513.5" y1="289.0" x2="513.5" y2="403.4" stroke="#EBEBEB" stroke-width="0.9"/>
<line x1="534.25" y1="289.0" x2="534.25" y2="403.4" stroke="#EBEBEB" stroke-width="0.9"/>
<line x1="555" y1="289.0" x2="555" y2="403.4" stroke="#EBEBEB" stroke-width="0.9"/>
<line x1="575.75" y1="289.0" x2="575.75" y2="403.4" stroke="#EBEBEB" stroke-width="0.9"/>
<line x1="596.5" y1="289.0" x2="596.5" y2="403.4" stroke="#EBEBEB" stroke-width="0.9"/>
<line x1="617.25" y1="289.0" x2="617.25" y2="403.4" stroke="#EBEBEB" stroke-width="0.9"/>
<line x1="638" y1="289.0" x2="638" y2="403.4" stroke="#EBEBEB" stroke-width="0.9"/>
<line x1="658.75" y1="289.0" x2="658.75" y2="403.4" stroke="#EBEBEB" stroke-width="0.9"/>
<line x1="679.5" y1="289.0" x2="679.5" y2="403.4" stroke="#EBEBEB" stroke-width="0.9"/>
<line x1="700.25" y1="289.0" x2="700.25" y2="403.4" stroke="#EBEBEB" stroke-width="0.9"/>
<line x1="721" y1="289.0" x2="721" y2="403.4" stroke="#EBEBEB" stroke-width="0.9"/>
<line x1="741.75" y1="289.0" x2="741.75" y2="403.4" stroke="#EBEBEB" stroke-width="0.9"/>
<line x1="762.5" y1="289.0" x2="762.5" y2="403.4" stroke="#EBEBEB" stroke-width="0.9"/>
<line x1="783.25" y1="289.0" x2="783.25" y2="403.4" stroke="#EBEBEB" stroke-width="0.9"/>
<rect x="418.2" y="336.04" width="377.3" height="16.62" fill="#A020F0" opacity="0.22"/>
<line x1="430.5" y1="338.25" x2="430.5" y2="351.75" stroke="#333333" stroke-width="0.9"/>
<line x1="430.5" y1="361.25" x2="430.5" y2="373.25" stroke="#333333" stroke-width="0.9"/>
<rect x="422.7" y="351.75" width="15.6" height="9.5" fill="#fff" stroke="#333333" stroke-width="0.9"/>
<line x1="422.7" y1="354.25" x2="438.3" y2="354.25" stroke="#333333" stroke-width="1.8"/>
<circle cx="430.5" cy="375.5" r="1.75" fill="#333333"/>
<circle cx="430.5" cy="377" r="1.75" fill="#333333"/>
<line x1="451.25" y1="335.75" x2="451.25" y2="349.25" stroke="#333333" stroke-width="0.9"/>
<line x1="451.25" y1="363.25" x2="451.25" y2="373" stroke="#333333" stroke-width="0.9"/>
<rect x="443.45" y="349.25" width="15.6" height="14" fill="#fff" stroke="#333333" stroke-width="0.9"/>
<line x1="443.45" y1="356.25" x2="459.05" y2="356.25" stroke="#333333" stroke-width="1.8"/>
<line x1="472" y1="314.25" x2="472" y2="326.75" stroke="#333333" stroke-width="0.9"/>
<line x1="472" y1="339.25" x2="472" y2="353.25" stroke="#333333" stroke-width="0.9"/>
<rect x="464.2" y="326.75" width="15.6" height="12.5" fill="#fff" stroke="#333333" stroke-width="0.9"/>
<line x1="464.2" y1="332.75" x2="479.8" y2="332.75" stroke="#333333" stroke-width="1.8"/>
<line x1="513.5" y1="337.5" x2="513.5" y2="351.25" stroke="#333333" stroke-width="0.9"/>
<line x1="513.5" y1="371.25" x2="513.5" y2="375.5" stroke="#333333" stroke-width="0.9"/>
<rect x="505.7" y="351.25" width="15.6" height="20" fill="#fff" stroke="#333333" stroke-width="0.9"/>
<line x1="505.7" y1="362.5" x2="521.3" y2="362.5" stroke="#333333" stroke-width="1.8"/>
<line x1="555" y1="331.75" x2="555" y2="345" stroke="#333333" stroke-width="0.9"/>
<line x1="555" y1="373.25" x2="555" y2="381.25" stroke="#333333" stroke-width="0.9"/>
<rect x="547.2" y="345" width="15.6" height="28.25" fill="#fff" stroke="#333333" stroke-width="0.9"/>
<line x1="547.2" y1="352.5" x2="562.8" y2="352.5" stroke="#333333" stroke-width="1.8"/>
<line x1="575.75" y1="330.3" x2="575.75" y2="339.6" stroke="#333333" stroke-width="0.9"/>
<line x1="575.75" y1="349.3" x2="575.75" y2="352.6" stroke="#333333" stroke-width="0.9"/>
<rect x="567.95" y="339.6" width="15.6" height="9.7" fill="#fff" stroke="#333333" stroke-width="0.9"/>
<line x1="567.95" y1="340.8" x2="583.55" y2="340.8" stroke="#333333" stroke-width="1.8"/>
<line x1="596.5" y1="318.6" x2="596.5" y2="332.5" stroke="#333333" stroke-width="0.9"/>
<line x1="596.5" y1="342.7" x2="596.5" y2="357.9" stroke="#333333" stroke-width="0.9"/>
<rect x="588.7" y="332.5" width="15.6" height="10.2" fill="#fff" stroke="#333333" stroke-width="0.9"/>
<line x1="588.7" y1="336.6" x2="604.3" y2="336.6" stroke="#333333" stroke-width="1.8"/>
<circle cx="596.5" cy="359.6" r="1.75" fill="#333333"/>
<circle cx="596.5" cy="368.75" r="1.75" fill="#333333"/>
<line x1="617.25" y1="332" x2="617.25" y2="348.4" stroke="#333333" stroke-width="0.9"/>
<line x1="617.25" y1="369.4" x2="617.25" y2="378.6" stroke="#333333" stroke-width="0.9"/>
<rect x="609.45" y="348.4" width="15.6" height="21" fill="#fff" stroke="#333333" stroke-width="0.9"/>
<line x1="609.45" y1="361.4" x2="625.05" y2="361.4" stroke="#333333" stroke-width="1.8"/>
<line x1="638" y1="333.75" x2="638" y2="350.5" stroke="#333333" stroke-width="0.9"/>
<line x1="638" y1="362.75" x2="638" y2="372.25" stroke="#333333" stroke-width="0.9"/>
<rect x="630.2" y="350.5" width="15.6" height="12.25" fill="#fff" stroke="#333333" stroke-width="0.9"/>
<line x1="630.2" y1="357.75" x2="645.8" y2="357.75" stroke="#333333" stroke-width="1.8"/>
<line x1="658.75" y1="293.75" x2="658.75" y2="313" stroke="#333333" stroke-width="0.9"/>
<line x1="658.75" y1="337.5" x2="658.75" y2="363.5" stroke="#333333" stroke-width="0.9"/>
<rect x="650.95" y="313" width="15.6" height="24.5" fill="#fff" stroke="#333333" stroke-width="0.9"/>
<line x1="650.95" y1="318.75" x2="666.55" y2="318.75" stroke="#333333" stroke-width="1.8"/>
<line x1="700.25" y1="328.25" x2="700.25" y2="343.5" stroke="#333333" stroke-width="0.9"/>
<line x1="700.25" y1="358.5" x2="700.25" y2="377.25" stroke="#333333" stroke-width="0.9"/>
<rect x="692.45" y="343.5" width="15.6" height="15" fill="#fff" stroke="#333333" stroke-width="0.9"/>
<line x1="692.45" y1="350.5" x2="708.05" y2="350.5" stroke="#333333" stroke-width="1.8"/>
<circle cx="700.25" cy="380.25" r="1.75" fill="#333333"/>
<circle cx="700.25" cy="382" r="1.75" fill="#333333"/>
<circle cx="700.25" cy="384" r="1.75" fill="#333333"/>
<circle cx="700.25" cy="391" r="1.75" fill="#333333"/>
<line x1="721" y1="353.25" x2="721" y2="364" stroke="#333333" stroke-width="0.9"/>
<line x1="721" y1="371.5" x2="721" y2="381" stroke="#333333" stroke-width="0.9"/>
<rect x="713.2" y="364" width="15.6" height="7.5" fill="#fff" stroke="#333333" stroke-width="0.9"/>
<line x1="713.2" y1="367.75" x2="728.8" y2="367.75" stroke="#333333" stroke-width="1.8"/>
<circle cx="721" cy="346" r="1.75" fill="#333333"/>
<circle cx="721" cy="347.5" r="1.75" fill="#333333"/>
<circle cx="721" cy="349" r="1.75" fill="#333333"/>
<circle cx="721" cy="350.5" r="1.75" fill="#333333"/>
<circle cx="721" cy="352" r="1.75" fill="#333333"/>
<line x1="741.75" y1="306.75" x2="741.75" y2="320.75" stroke="#333333" stroke-width="0.9"/>
<line x1="741.75" y1="347.25" x2="741.75" y2="360.75" stroke="#333333" stroke-width="0.9"/>
<rect x="733.95" y="320.75" width="15.6" height="26.5" fill="#fff" stroke="#333333" stroke-width="0.9"/>
<line x1="733.95" y1="331.25" x2="749.55" y2="331.25" stroke="#333333" stroke-width="1.8"/>
<line x1="762.5" y1="308.25" x2="762.5" y2="329.25" stroke="#333333" stroke-width="0.9"/>
<line x1="762.5" y1="346.5" x2="762.5" y2="368.5" stroke="#333333" stroke-width="0.9"/>
<rect x="754.7" y="329.25" width="15.6" height="17.25" fill="#fff" stroke="#333333" stroke-width="0.9"/>
<line x1="754.7" y1="339.75" x2="770.3" y2="339.75" stroke="#333333" stroke-width="1.8"/>
<circle cx="762.5" cy="372.2" r="1.75" fill="#333333"/>
<circle cx="762.5" cy="373.2" r="1.75" fill="#333333"/>
<rect x="418.2" y="289.0" width="377.3" height="114.4" fill="none" stroke="#BDBDBD" stroke-width="0.9"/>
<line x1="416" y1="377.6" x2="418.2" y2="377.6" stroke="#4A4A4A" stroke-width="0.9"/>
<text x="413.4" y="380.8" text-anchor="end" class="tk">40</text>
<line x1="416" y1="344.35" x2="418.2" y2="344.35" stroke="#4A4A4A" stroke-width="0.9"/>
<text x="413.4" y="347.55" text-anchor="end" class="tk">60</text>
<line x1="416" y1="311.1" x2="418.2" y2="311.1" stroke="#4A4A4A" stroke-width="0.9"/>
<text x="413.4" y="314.3" text-anchor="end" class="tk">80</text>
<line x1="430.5" y1="403.4" x2="430.5" y2="405.6" stroke="#4A4A4A" stroke-width="0.9"/>
<text x="430.5" y="414" text-anchor="middle" class="tk">1</text>
<line x1="451.25" y1="403.4" x2="451.25" y2="405.6" stroke="#4A4A4A" stroke-width="0.9"/>
<text x="451.25" y="414" text-anchor="middle" class="tk">2</text>
<line x1="472" y1="403.4" x2="472" y2="405.6" stroke="#4A4A4A" stroke-width="0.9"/>
<text x="472" y="414" text-anchor="middle" class="tk">3</text>
<line x1="492.75" y1="403.4" x2="492.75" y2="405.6" stroke="#4A4A4A" stroke-width="0.9"/>
<text x="492.75" y="414" text-anchor="middle" class="tk">4</text>
<line x1="513.5" y1="403.4" x2="513.5" y2="405.6" stroke="#4A4A4A" stroke-width="0.9"/>
<text x="513.5" y="414" text-anchor="middle" class="tk">5</text>
<line x1="534.25" y1="403.4" x2="534.25" y2="405.6" stroke="#4A4A4A" stroke-width="0.9"/>
<text x="534.25" y="414" text-anchor="middle" class="tk">6</text>
<line x1="555" y1="403.4" x2="555" y2="405.6" stroke="#4A4A4A" stroke-width="0.9"/>
<text x="555" y="414" text-anchor="middle" class="tk">7</text>
<line x1="575.75" y1="403.4" x2="575.75" y2="405.6" stroke="#4A4A4A" stroke-width="0.9"/>
<text x="575.75" y="414" text-anchor="middle" class="tk">8</text>
<line x1="596.5" y1="403.4" x2="596.5" y2="405.6" stroke="#4A4A4A" stroke-width="0.9"/>
<text x="596.5" y="414" text-anchor="middle" class="tk">9</text>
<line x1="617.25" y1="403.4" x2="617.25" y2="405.6" stroke="#4A4A4A" stroke-width="0.9"/>
<text x="617.25" y="414" text-anchor="middle" class="tk">10</text>
<line x1="638" y1="403.4" x2="638" y2="405.6" stroke="#4A4A4A" stroke-width="0.9"/>
<text x="638" y="414" text-anchor="middle" class="tk">11</text>
<line x1="658.75" y1="403.4" x2="658.75" y2="405.6" stroke="#4A4A4A" stroke-width="0.9"/>
<text x="658.75" y="414" text-anchor="middle" class="tk">12</text>
<line x1="679.5" y1="403.4" x2="679.5" y2="405.6" stroke="#4A4A4A" stroke-width="0.9"/>
<text x="679.5" y="414" text-anchor="middle" class="tk">13</text>
<line x1="700.25" y1="403.4" x2="700.25" y2="405.6" stroke="#4A4A4A" stroke-width="0.9"/>
<text x="700.25" y="414" text-anchor="middle" class="tk">14</text>
<line x1="721" y1="403.4" x2="721" y2="405.6" stroke="#4A4A4A" stroke-width="0.9"/>
<text x="721" y="414" text-anchor="middle" class="tk">15</text>
<line x1="741.75" y1="403.4" x2="741.75" y2="405.6" stroke="#4A4A4A" stroke-width="0.9"/>
<text x="741.75" y="414" text-anchor="middle" class="tk">16</text>
<line x1="762.5" y1="403.4" x2="762.5" y2="405.6" stroke="#4A4A4A" stroke-width="0.9"/>
<text x="762.5" y="414" text-anchor="middle" class="tk">17</text>
<line x1="783.25" y1="403.4" x2="783.25" y2="405.6" stroke="#4A4A4A" stroke-width="0.9"/>
<text x="783.25" y="414" text-anchor="middle" class="tk">18</text>
<text x="4.3" y="11.9" class="bt" style="font-size:10.4px">A</text>
<text x="404.5" y="11.8" class="bt" style="font-size:10.2px">B</text>
<text x="61.2" y="27.7" class="bt" style="font-size:8.75px">Desired Range: 55 - 65%</text>
<text x="606.8" y="15.3" text-anchor="middle" class="bt" style="font-size:8.5px">Session 1</text>
<text x="606.8" y="149.9" text-anchor="middle" class="bt" style="font-size:8.5px">Session 2</text>
<text x="606.8" y="284.2" text-anchor="middle" class="bt" style="font-size:8.5px">Session 3</text>
<text x="213" y="425.7" text-anchor="middle" class="bt" style="font-size:10px">User</text>
<text x="606.8" y="425.7" text-anchor="middle" class="bt" style="font-size:10px">User</text>
<text transform="translate(12.1,203.4) rotate(-90)" text-anchor="middle" class="bt" style="font-size:10.3px">% of HR max (age adjusted)</text>
</svg>
</body></html>
